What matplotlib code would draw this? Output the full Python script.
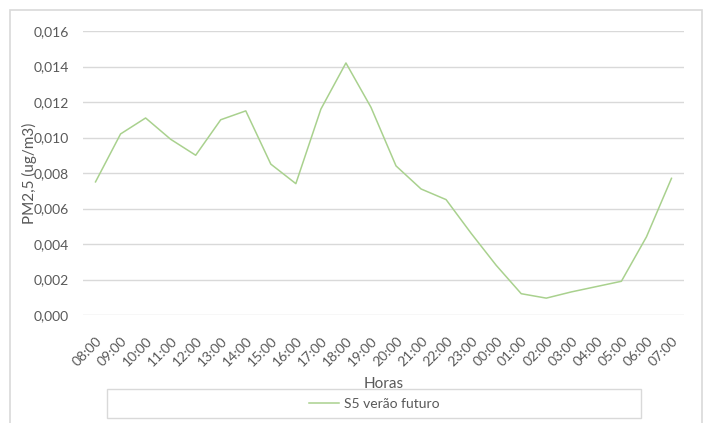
import matplotlib
matplotlib.use('Agg')
from matplotlib import pyplot as plt
from matplotlib.ticker import FuncFormatter
from matplotlib.patches import Rectangle

plt.rcParams['font.family'] = ['Lato', 'DejaVu Sans']

horas = ['08:00', '09:00', '10:00', '11:00', '12:00', '13:00', '14:00', '15:00',
         '16:00', '17:00', '18:00', '19:00', '20:00', '21:00', '22:00', '23:00',
         '00:00', '01:00', '02:00', '03:00', '04:00', '05:00', '06:00', '07:00']
pm25 = [0.0075, 0.0102, 0.0111, 0.0099, 0.0090, 0.0110, 0.0115, 0.0085,
        0.0074, 0.0116, 0.0142, 0.0117, 0.0084, 0.0071, 0.0065, 0.0046,
        0.0028, 0.0012, 0.00095, 0.0013, 0.0016, 0.0019, 0.0044, 0.0077]
serie = 'S5 verão futuro'

cinza = '#595959'
fig = plt.figure(figsize=(7.09, 4.23), dpi=100)

# moldura do gráfico (estilo Excel)
fig.patches.append(Rectangle((10/709, -0.05), 692/709, 1 - 10/423 + 0.05,
                             transform=fig.transFigure, fill=False,
                             edgecolor='#D9D9D9', linewidth=1.2))

ax = fig.add_axes([83/709, 1 - 315/423, 601/709, 284/423])
ax.plot(range(len(horas)), pm25, color='#A9D18E', linewidth=1.1, label=serie)

ax.set_xlim(-0.5, len(horas) - 0.5)
ax.set_ylim(0, 0.016)
ax.set_yticks([i * 0.002 for i in range(9)])
ax.yaxis.set_major_formatter(FuncFormatter(lambda v, p: f'{v:.3f}'.replace('.', ',')))
ax.set_xticks(range(len(horas)))
ax.set_xticklabels(horas, rotation=45, ha='right', va='top', rotation_mode='anchor')

ax.grid(axis='y', color='#D9D9D9', linewidth=1)
ax.set_axisbelow(True)
for s in ax.spines.values():
    s.set_visible(False)
ax.tick_params(length=0, colors=cinza, labelsize=10)
ax.tick_params(axis='y', pad=10)
ax.tick_params(axis='x', pad=14)

ax.set_xlabel('Horas', color=cinza, fontsize=11, labelpad=6)
ax.set_ylabel('PM2,5 (ug/m3)', color=cinza, fontsize=11, labelpad=-2)

# caixa da legenda
fig.patches.append(Rectangle((107/709, 1 - 418/423), 534/709, 29/423,
                             transform=fig.transFigure, fill=False,
                             edgecolor='#D9D9D9', linewidth=1))
leg = fig.legend(loc='center', bbox_to_anchor=(374/709, 1 - 403.5/423),
                 frameon=False, fontsize=10, handlelength=2.2, handletextpad=0.3)
for t in leg.get_texts():
    t.set_color(cinza)

fig.savefig('out.png', dpi=100)
